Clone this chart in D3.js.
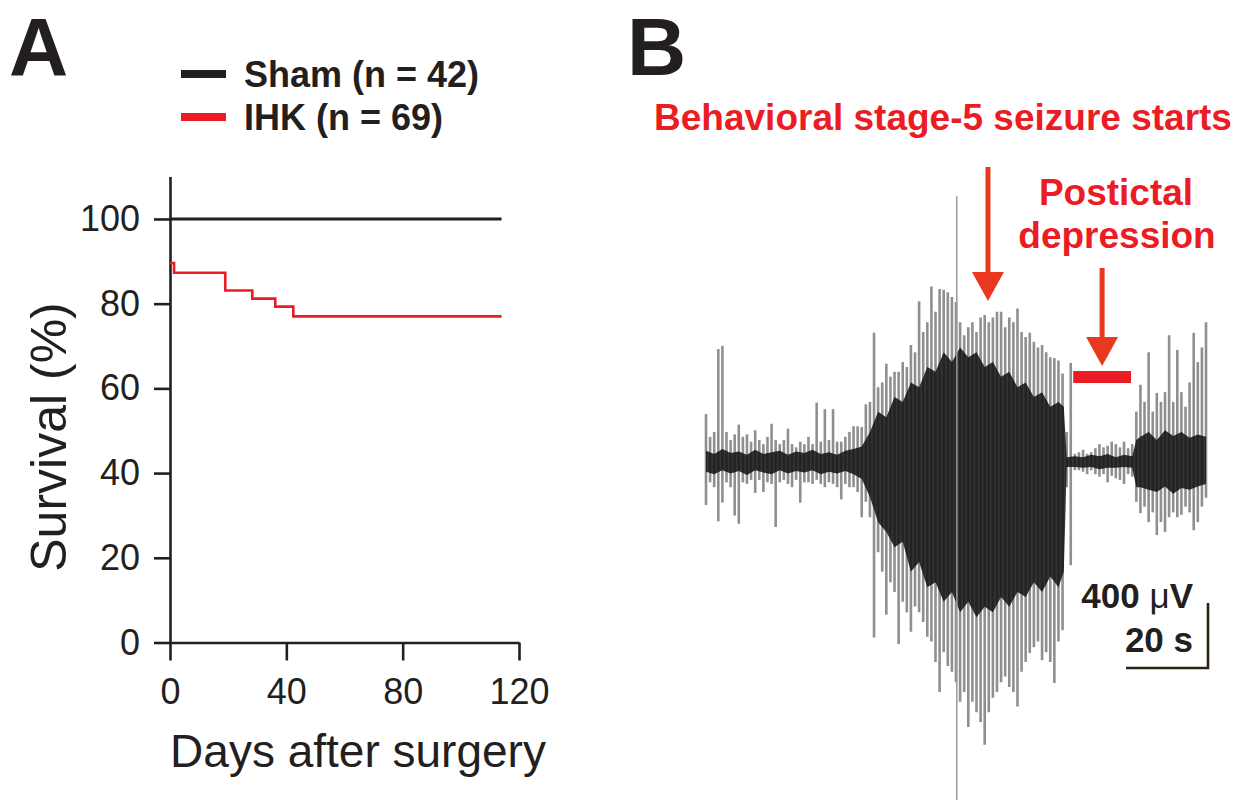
<html>
<script src="https://d3js.org/d3.v7.min.js"></script>
<style>
  body { margin: 0; background: #fff; }
  text { font-family: "Liberation Sans", Arial, Helvetica, sans-serif; }
</style>
<body>
<svg width="1247" height="800"></svg>
<script>
// ---- Panel A: survival ----
var shamDays = [0, 114];
var shamSurv = [100, 100];
var ihkDays = [0, 1.4, 19, 28.3, 36.2, 42.4, 114];
var ihkSurv = [89.6, 87.3, 83.1, 81.2, 79.3, 77.0, 77.0];
var survTicks = [0, 20, 40, 60, 80, 100];
var dayTicks = [0, 40, 80, 120];
var legendLabels = ["Sham (n = 42)", "IHK (n = 69)"];

// ---- Panel B: EEG envelope, 1 s bins, µV above / below baseline ----
var eegHi = [295,155,185,695,715,185,135,170,230,155,170,125,195,135,110,155,235,135,110,135,
  205,110,90,125,110,155,110,365,125,325,135,325,125,125,155,185,220,220,215,355,
  370,795,460,490,605,525,555,555,615,585,720,675,990,800,860,1080,925,1065,1060,1045,
  1015,985,860,780,830,860,800,890,905,860,890,925,925,830,890,860,945,800,770,795,
  740,705,720,675,645,640,625,545,185,610,50,60,75,50,60,85,110,90,100,125,
  110,90,125,85,110,310,475,370,675,310,425,370,430,780,370,690,430,340,490,795,
  615,705,860];
var eegLo = [265,125,155,365,250,125,155,330,380,125,135,110,190,110,185,125,135,400,125,110,
  135,155,110,250,125,125,135,110,135,155,125,135,155,230,135,155,155,185,340,245,
  340,1080,555,675,940,740,800,1120,860,925,1045,890,925,985,1075,1105,1230,1415,1170,1255,
  1290,1355,1475,1415,1630,1475,1540,1600,1740,1540,1450,1415,1355,1320,1385,1415,1505,1290,1230,1175,
  1140,1105,1220,1170,1230,1360,1105,1035,155,635,50,50,60,75,50,75,90,75,125,85,
  100,110,135,75,90,245,315,275,370,310,450,370,430,340,310,340,325,275,310,420,
  370,275,220];
// dense dark core of the trace (µV), 2 s steps
var coreT = [0,2,4,6,8,10,12,14,16,18,20,22,24,26,28,30,32,34,36,38,
  40,42,44,46,48,50,52,54,56,58,60,62,64,66,68,70,72,74,76,78,80,82,84,86,87.3,
  88,90,92,94,96,98,100,102,104,105,106,108,110,112,114,116,118,120,122];
var coreHi = [70,50,80,55,65,45,75,50,60,70,45,65,55,75,50,60,45,70,80,95,
  185,310,275,400,370,490,460,585,555,675,615,705,645,675,585,615,525,555,460,490,400,430,340,370,340,
  30,35,30,45,35,50,30,45,35,135,155,185,135,195,160,185,150,170,155];
var coreLo = [60,75,50,70,55,80,50,65,75,50,70,55,65,50,75,60,70,55,75,105,
  215,370,430,525,490,675,615,770,740,860,800,925,860,955,890,925,830,890,800,830,740,800,705,770,675,
  30,30,35,30,45,35,35,30,35,155,155,170,185,150,195,160,170,150,135];
var artifact = { t: 61.2, hi: 1635, lo: 2080 };
var seizureOnsetT = 68.8;
var postictalT = [89.6, 103.7];
var scaleBarUV = 400, scaleBarS = 20;

var svg = d3.select("svg");
svg.append("rect").attr("width", 1247).attr("height", 800).attr("fill", "#fff");

var ink = "#231f20";
var red = "#ec1c24";
var arrowRed = "#e8391f";

// panel letters
svg.append("text").attr("x", 9).attr("y", 75).attr("font-size", 82).attr("font-weight", "bold")
  .attr("fill", ink).text("A");
svg.append("text").attr("x", 627).attr("y", 75).attr("font-size", 82).attr("font-weight", "bold")
  .attr("fill", ink).text("B");

// ---------- Panel A ----------
var x = d3.scaleLinear().domain([0, 120]).range([170, 519]);
var y = d3.scaleLinear().domain([0, 110]).range([642.5, 176.6]);

var gA = svg.append("g");

var yAxis = gA.append("g").attr("transform", "translate(170,0)")
  .call(d3.axisLeft(y).tickValues(survTicks).tickSize(16).tickSizeOuter(0).tickPadding(14));
var xAxis = gA.append("g").attr("transform", "translate(0,642.5)")
  .call(d3.axisBottom(x).tickValues(dayTicks).tickSize(18).tickSizeOuter(0).tickPadding(18));

[yAxis, xAxis].forEach(function(a) {
  a.selectAll("path, line").attr("stroke", ink).attr("stroke-width", 2.6);
  a.selectAll("text").attr("font-size", 36).attr("fill", ink)
    .style("font-family", '"Liberation Sans", Arial, sans-serif');
});

gA.append("text").attr("x", 358).attr("y", 767).attr("text-anchor", "middle")
  .attr("font-size", 46).attr("fill", ink).text("Days after surgery");
gA.append("text").attr("transform", "translate(66,437) rotate(-90)").attr("text-anchor", "middle")
  .attr("font-size", 50).attr("fill", ink).text("Survival (%)");

var stepLine = d3.line().curve(d3.curveStepAfter)
  .x(function(d) { return x(d[0]); }).y(function(d) { return y(d[1]); });

gA.append("path").datum(d3.zip(shamDays, shamSurv)).attr("d", stepLine)
  .attr("fill", "none").attr("stroke", ink).attr("stroke-width", 3);
gA.append("path").datum(d3.zip(ihkDays, ihkSurv)).attr("d", stepLine)
  .attr("fill", "none").attr("stroke", red).attr("stroke-width", 2.6);

// legend
var legColors = [ink, red];
legendLabels.forEach(function(lbl, i) {
  var ly = 74 + i * 43;
  gA.append("line").attr("x1", 181).attr("x2", 226).attr("y1", ly).attr("y2", ly)
    .attr("stroke", legColors[i]).attr("stroke-width", 8);
  gA.append("text").attr("x", 244).attr("y", ly + 13).attr("font-size", 36)
    .attr("font-weight", "bold").attr("fill", ink).text(lbl);
});

// ---------- Panel B ----------
var ex = d3.scaleLinear().domain([0, 122]).range([706, 1206]);
var ey = d3.scaleLinear().domain([-400, 400]).range([527, 397]);

var gB = svg.append("g");

gB.selectAll("line.spk").data(eegHi).enter().append("line").attr("class", "spk")
  .attr("x1", function(d, i) { return ex(i); })
  .attr("x2", function(d, i) { return ex(i); })
  .attr("y1", function(d) { return ey(d); })
  .attr("y2", function(d, i) { return ey(-eegLo[i]); })
  .attr("stroke", "#333").attr("stroke-opacity", 0.55).attr("stroke-width", 2.6);

var core = d3.area()
  .x(function(d, i) { return ex(coreT[i]); })
  .y0(function(d, i) { return ey(-coreLo[i]); })
  .y1(function(d, i) { return ey(coreHi[i]); });
gB.append("path").datum(coreT).attr("d", core).attr("fill", "#111").attr("opacity", 0.85);

gB.append("line")
  .attr("x1", ex(artifact.t)).attr("x2", ex(artifact.t))
  .attr("y1", ey(artifact.hi)).attr("y2", ey(-artifact.lo))
  .attr("stroke", "#9a9a9a").attr("stroke-width", 1.5);

// annotations
gB.append("text").attr("x", 943).attr("y", 130).attr("text-anchor", "middle")
  .attr("font-size", 37).attr("font-weight", "bold").attr("fill", red)
  .text("Behavioral stage-5 seizure starts");
gB.append("text").attr("x", 1116).attr("y", 205).attr("text-anchor", "middle")
  .attr("font-size", 37).attr("font-weight", "bold").attr("fill", red).text("Postictal");
gB.append("text").attr("x", 1117).attr("y", 248).attr("text-anchor", "middle")
  .attr("font-size", 37).attr("font-weight", "bold").attr("fill", red).text("depression");

function arrow(cx, yTop, yTip) {
  gB.append("line").attr("x1", cx).attr("x2", cx).attr("y1", yTop).attr("y2", yTip - 20)
    .attr("stroke", arrowRed).attr("stroke-width", 5);
  gB.append("path")
    .attr("d", "M" + (cx - 16) + "," + (yTip - 29) + "L" + (cx + 16) + "," + (yTip - 29) + "L" + cx + "," + yTip + "Z")
    .attr("fill", arrowRed);
}
arrow(ex(seizureOnsetT), 167, 301);
var pcMid = ex((postictalT[0] + postictalT[1]) / 2);
arrow(pcMid, 268, 366);
gB.append("rect").attr("x", ex(postictalT[0])).attr("y", 371)
  .attr("width", ex(postictalT[1]) - ex(postictalT[0])).attr("height", 12).attr("fill", red);

// scale bar
var sbX = ex(122) + 2, sbY = 668;
var sbW = ex(scaleBarS) - ex(0), sbH = ey(0) - ey(scaleBarUV);
gB.append("path")
  .attr("d", "M" + (sbX - sbW) + "," + sbY + "H" + sbX + "V" + (sbY - sbH))
  .attr("fill", "none").attr("stroke", "#2b2116").attr("stroke-width", 2.6);
var t1 = gB.append("text").attr("x", 1193).attr("y", 608).attr("text-anchor", "end")
  .attr("font-size", 35).attr("font-weight", "bold").attr("fill", ink);
t1.append("tspan").text(scaleBarUV + " ");
t1.append("tspan").attr("font-weight", "normal").text("\u03bc");
t1.append("tspan").text("V");
gB.append("text").attr("x", 1193).attr("y", 652).attr("text-anchor", "end")
  .attr("font-size", 35).attr("font-weight", "bold").attr("fill", ink).text(scaleBarS + " s");
</script>
</body>
</html>
